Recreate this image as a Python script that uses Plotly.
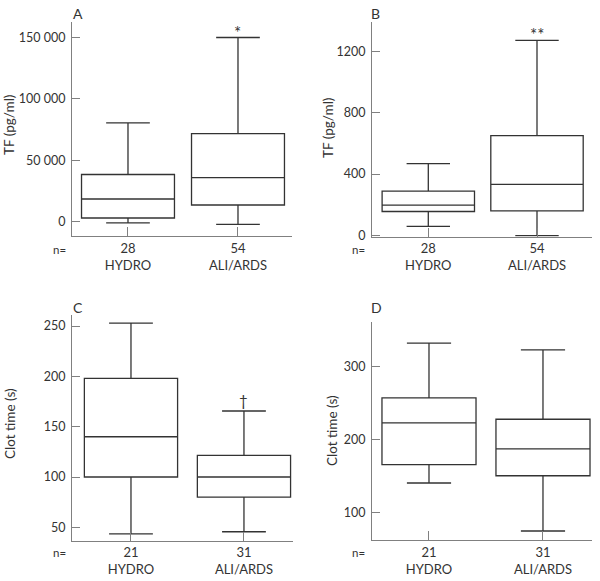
import plotly.graph_objects as go

W, H = 600, 581

groups = ["HYDRO", "ALI/ARDS"]

# Panel A: TF (pg/ml)
a_n = [28, 54]
a_q1 = [3250, 13800]
a_med = [18700, 36000]
a_q3 = [38600, 71800]
a_low = [-800, -1900]
a_high = [80500, 150000]
a_ticks = [0, 50000, 100000, 150000]
a_ticktext = ["0", "50 000", "100 000", "150 000"]

# Panel B: TF (pg/ml)
b_n = [28, 54]
b_q1 = [155, 159]
b_med = [197, 333]
b_q3 = [288, 652]
b_low = [58, -3]
b_high = [468, 1275]
b_ticks = [0, 400, 800, 1200]

# Panel C: Clot time (s)
c_n = [21, 31]
c_q1 = [100, 80]
c_med = [140, 100]
c_q3 = [198, 121.5]
c_low = [43.5, 45.6]
c_high = [253, 165.6]
c_ticks = [50, 100, 150, 200, 250]

# Panel D: Clot time (s)
d_n = [21, 31]
d_q1 = [165.8, 150.5]
d_med = [222.8, 187.3]
d_q3 = [257, 227.7]
d_low = [140.6, 75]
d_high = [331.8, 322.5]
d_ticks = [100, 200, 300]

FONT = "Lato"
TXT = "#333333"
BOXC = "#333333"
AXC = "#808080"


def fx(px):
    return px / W


def fy(py):
    return 1 - py / H


fig = go.Figure()

panels = [
    ("", a_q1, a_med, a_q3, a_low, a_high, a_n, 0.845, [-0.509, 1.491], [-11400, 162600],
     (72, 292), (22, 236), a_ticks, a_ticktext),
    ("2", b_q1, b_med, b_q3, b_low, b_high, b_n, 0.85, [-0.518, 1.506], [-10, 1395],
     (372, 592), (22, 236.7), b_ticks, [str(v) for v in b_ticks]),
    ("3", c_q1, c_med, c_q3, c_low, c_high, c_n, 0.825, [-0.522, 1.434], [36.7, 261],
     (72, 293), (315, 540.7), c_ticks, [str(v) for v in c_ticks]),
    ("4", d_q1, d_med, d_q3, d_low, d_high, d_n, 0.825, [-0.5, 1.43], [62.7, 361],
     (372, 592), (321.7, 540), d_ticks, [str(v) for v in d_ticks]),
]

for (sfx, q1, med, q3, low, high, n, wd, xr, yr, xd, yd, tv, tt) in panels:
    fig.add_trace(go.Box(
        x=[0, 1], q1=q1, median=med, q3=q3, lowerfence=low, upperfence=high,
        width=wd, whiskerwidth=0.47, boxpoints=False,
        fillcolor="white", line=dict(color=BOXC, width=1.3),
        xaxis="x" + sfx, yaxis="y" + sfx, showlegend=False, hoverinfo="skip",
    ))
    xa = dict(
        domain=[fx(xd[0]), fx(xd[1])], range=xr, anchor="y" + sfx,
        tickmode="array", tickvals=[0, 1],
        ticktext=[f"{n[i]}<br>{groups[i]}" for i in range(2)],
        ticks="inside", ticklen=9, tickcolor=AXC, tickwidth=1,
        showline=True, linecolor=AXC, linewidth=1,
        showgrid=False, zeroline=False, automargin=False,
        tickfont=dict(family=FONT, size=13, color=TXT),
    )
    ya = dict(
        domain=[fy(yd[1]), fy(yd[0])], range=yr, anchor="x" + sfx,
        tickmode="array", tickvals=tv, ticktext=tt,
        ticks="inside", ticklen=8, tickcolor=AXC, tickwidth=1,
        showline=True, linecolor=AXC, linewidth=1,
        showgrid=False, zeroline=False, automargin=False,
        ticklabelstandoff=3,
        tickfont=dict(family=FONT, size=12.5, color=TXT),
    )
    fig.update_layout(**{"xaxis" + sfx: xa, "yaxis" + sfx: ya})

ann = []


def paper_text(text, x, y, size=12, angle=0, xanchor="center"):
    ann.append(dict(text=text, x=fx(x), y=fy(y), xref="paper", yref="paper",
                    showarrow=False, xanchor=xanchor, yanchor="middle",
                    textangle=angle, font=dict(family=FONT, size=size, color=TXT)))


# panel letters
paper_text("A", 78, 14, 14)
paper_text("B", 375, 14, 14)
paper_text("C", 78, 307, 14)
paper_text("D", 376, 307, 14)

# y-axis titles
paper_text("TF (pg/ml)", 9, 125, 13.5, -90)
paper_text("TF (pg/ml)", 328, 128, 13.5, -90)
paper_text("Clot time (s)", 10, 424, 13.5, -90)
paper_text("Clot time (s)", 332, 431, 13.5, -90)

# n= labels
paper_text("n=", 68, 249, 11.5, xanchor="right")
paper_text("n=", 367, 249.5, 11.5, xanchor="right")
paper_text("n=", 68, 552, 11.5, xanchor="right")
paper_text("n=", 367, 552, 11.5, xanchor="right")

# significance marks
ann.append(dict(text="*", x=1, y=a_high[1], xref="x", yref="y", showarrow=False,
                yanchor="bottom", yshift=-8, font=dict(family=FONT, size=17, color=TXT)))
ann.append(dict(text="**", x=1, y=b_high[1], xref="x2", yref="y2", showarrow=False,
                yanchor="bottom", yshift=-7, font=dict(family=FONT, size=17, color=TXT)))
ann.append(dict(text="†", x=1, y=c_high[1], xref="x3", yref="y3", showarrow=False,
                yanchor="bottom", yshift=0, font=dict(family=FONT, size=15, color=TXT)))

fig.update_layout(
    width=W, height=H, margin=dict(l=0, r=0, t=0, b=0),
    paper_bgcolor="white", plot_bgcolor="white",
    annotations=ann, showlegend=False,
)

fig.write_html("out.html", config={"displayModeBar": False},
               post_script="document.body.style.margin='0px';document.body.style.padding='0px';")
